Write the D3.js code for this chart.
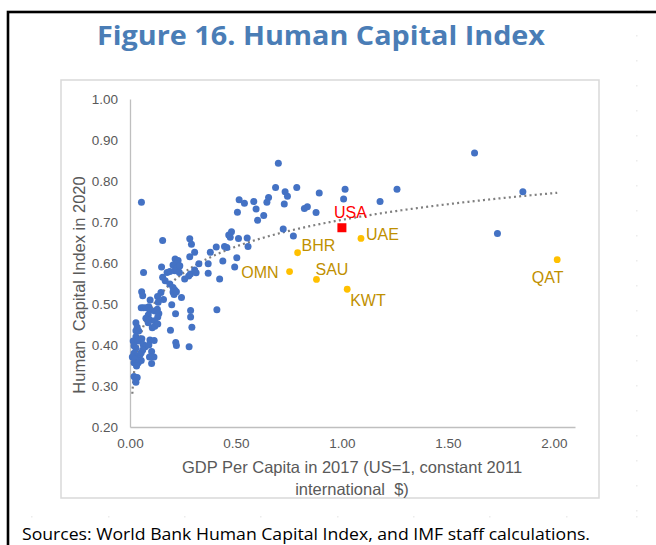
<!DOCTYPE html>
<html><head><meta charset="utf-8">
<script src="https://cdn.jsdelivr.net/npm/d3@7"></script>
<style>html,body{margin:0;padding:0;background:#fff;}svg{display:block;}</style>
</head><body>
<svg id="c" width="656" height="545"></svg>
<script>
// ---- data ----
const title = "Figure 16. Human Capital Index";
const sourceNote = "Sources: World Bank Human Capital Index, and IMF staff calculations.";
const xTitleLines = ["GDP Per Capita in 2017 (US=1, constant 2011", "international  $)"];
const yTitle = "Human  Capital Index in 2020";
const xTicks = [0, 0.5, 1.0, 1.5, 2.0];
const yTicks = [0.2, 0.3, 0.4, 0.5, 0.6, 0.7, 0.8, 0.9, 1.0];

// other countries: GDP per capita (US=1), HCI
const otherGdp = [0.700,0.687,0.787,0.732,0.743,0.893,1.015,1.008,1.260,1.180,0.515,0.540,0.584,0.654,0.646,0.728,0.507,0.595,0.631,0.602,0.823,0.837,0.878,0.723,0.771,0.466,0.479,0.473,0.512,0.553,0.557,0.407,0.446,0.457,0.379,0.504,0.438,0.369,0.494,0.369,0.423,0.410,1.626,1.854,1.734,0.054,0.154,0.282,0.290,0.282,0.305,0.213,0.227,0.222,0.231,0.203,0.221,0.211,0.235,0.149,0.175,0.188,0.233,0.258,0.277,0.285,0.305,0.312,0.325,0.064,0.154,0.166,0.188,0.203,0.211,0.203,0.208,0.219,0.243,0.055,0.060,0.095,0.146,0.130,0.158,0.133,0.197,0.215,0.286,0.286,0.292,0.053,0.064,0.077,0.089,0.094,0.117,0.129,0.136,0.131,0.086,0.075,0.094,0.086,0.117,0.105,0.117,0.131,0.028,0.034,0.028,0.041,0.191,0.028,0.015,0.038,0.019,0.056,0.062,0.072,0.060,0.053,0.094,0.114,0.089,0.102,0.113,0.047,0.034,0.042,0.053,0.028,0.019,0.011,0.023,0.019,0.092,0.102,0.216,0.219,0.279,0.039,0.031,0.019,0.027,0.034,0.028];
const otherHci = [0.843,0.784,0.784,0.774,0.763,0.771,0.780,0.756,0.780,0.750,0.754,0.746,0.750,0.760,0.748,0.744,0.724,0.732,0.716,0.704,0.733,0.737,0.723,0.683,0.666,0.668,0.676,0.663,0.660,0.661,0.640,0.639,0.640,0.638,0.626,0.613,0.605,0.598,0.590,0.575,0.561,0.486,0.868,0.774,0.672,0.748,0.655,0.659,0.646,0.615,0.626,0.610,0.606,0.599,0.591,0.595,0.587,0.581,0.593,0.590,0.577,0.579,0.577,0.561,0.568,0.573,0.583,0.576,0.598,0.577,0.565,0.557,0.549,0.540,0.534,0.529,0.523,0.530,0.516,0.530,0.520,0.510,0.528,0.518,0.511,0.504,0.498,0.476,0.484,0.468,0.443,0.491,0.491,0.491,0.493,0.484,0.483,0.487,0.477,0.468,0.473,0.465,0.461,0.454,0.459,0.442,0.446,0.451,0.454,0.443,0.435,0.434,0.436,0.420,0.410,0.410,0.398,0.415,0.401,0.396,0.388,0.381,0.412,0.411,0.400,0.384,0.371,0.376,0.370,0.365,0.362,0.392,0.380,0.371,0.366,0.357,0.371,0.355,0.406,0.399,0.396,0.357,0.349,0.323,0.316,0.321,0.309];

// GCC countries
const gccNames = ["UAE","BHR","OMN","SAU","KWT","QAT"];
const gccGdp = [1.090, 0.791, 0.753, 0.880, 1.025, 2.016];
const gccHci = [0.660, 0.625, 0.579, 0.560, 0.536, 0.608];

// United States
const usaName = "USA";
const usaGdp = 1.000;
const usaHci = 0.686;

// ---- layout / style ----
const svg = d3.select("#c");
const x = d3.scaleLinear().domain([0, 2.1]).range([130, 575]);
const y = d3.scaleLinear().domain([0.2, 1.0]).range([427, 99]);
const blue = "#4472c4", gold = "#ffc000", goldText = "#bf9000", grey = "#595959";

// faint page guides
const g0 = svg.append("g");
[31,108,184,260,337,413,489,566,636].forEach(v => g0.append("rect").attr("x", v).attr("y", 516).attr("width", 1.5).attr("height", 1.5).attr("fill", "#ececec"));
[10,35,60,85,110,135,160,185,210,235,260,285,310,335,360,385,410,435,460,485,510].forEach(v => g0.append("rect").attr("x", 636).attr("y", v).attr("width", 1.5).attr("height", 1.5).attr("fill", "#ececec"));

// outer black frame
svg.append("rect").attr("x", 8).attr("y", 12).attr("width", 800).attr("height", 700)
  .attr("fill", "none").attr("stroke", "#000").attr("stroke-width", 2.6);

// inner chart frame
svg.append("rect").attr("x", 61).attr("y", 80).attr("width", 538).attr("height", 418)
  .attr("fill", "#fff").attr("stroke", "#d9d9d9").attr("stroke-width", 1.5);

// title
svg.append("text").attr("x", 321).attr("y", 45).attr("text-anchor", "middle")
  .attr("font-family", "'Open Sans', sans-serif").attr("font-weight", 700).attr("font-size", 27)
  .attr("fill", "#4a7db6").attr("textLength", 448).attr("lengthAdjust", "spacingAndGlyphs")
  .text(title);

// source
svg.append("text").attr("x", 22).attr("y", 540)
  .attr("font-family", "'Open Sans', sans-serif").attr("font-size", 16).attr("fill", "#000")
  .attr("textLength", 568).attr("lengthAdjust", "spacingAndGlyphs")
  .text(sourceNote);

// axes
const font = "'Liberation Sans', Arial, sans-serif";
const xAxis = svg.append("g").attr("transform", "translate(0,427)")
  .call(d3.axisBottom(x).tickValues(xTicks).tickSize(0).tickPadding(11).tickFormat(d3.format(".2f")));
const yAxis = svg.append("g").attr("transform", "translate(130,0)")
  .call(d3.axisLeft(y).tickValues(yTicks).tickSize(0).tickPadding(12).tickFormat(d3.format(".2f")));
[xAxis, yAxis].forEach(a => {
  a.select(".domain").attr("stroke", "#bfbfbf").attr("stroke-width", 1.3);
  a.selectAll("text").attr("font-family", font).attr("font-size", 13.5).attr("fill", grey);
});

// axis titles
svg.append("text").attr("transform", "translate(85,285) rotate(-90)").attr("text-anchor", "middle")
  .attr("font-family", font).attr("font-size", 16.5).attr("fill", grey)
  .style("white-space", "pre").text(yTitle);
xTitleLines.forEach((t, i) => {
  svg.append("text").attr("x", 352).attr("y", 473 + i * 22).attr("text-anchor", "middle")
    .attr("font-family", font).attr("font-size", 16.5).attr("fill", grey)
    .style("white-space", "pre").text(t);
});

// logarithmic trend line (least squares on all countries, as Excel does)
const allX = otherGdp.concat(gccGdp, [usaGdp]);
const allY = otherHci.concat(gccHci, [usaHci]);
const lx = allX.map(Math.log);
const mx = d3.mean(lx), my = d3.mean(allY);
const b = d3.sum(lx.map((v, i) => (v - mx) * (allY[i] - my))) / d3.sum(lx.map(v => (v - mx) ** 2));
const a = my - b * mx;
const xmin = d3.min(allX), xmax = d3.max(allX);
const trendLow = d3.range(0, 101).map(i => {
  const xv = Math.exp(Math.log(xmin) + (Math.log(0.05) - Math.log(xmin)) * i / 100);
  return [xv, a + b * Math.log(xv)];
});
const trendHigh = d3.range(1, 301).map(i => {
  const xv = 0.05 + (xmax - 0.05) * i / 300;
  return [xv, a + b * Math.log(xv)];
});
svg.append("path").datum(trendLow.concat(trendHigh))
  .attr("d", d3.line().x(d => x(d[0])).y(d => y(d[1])))
  .attr("fill", "none").attr("stroke", "#7f7f7f").attr("stroke-width", 2.2)
  .attr("stroke-dasharray", "2,3.2");

// other countries
svg.append("g").selectAll("circle").data(otherGdp).join("circle")
  .attr("cx", d => x(d)).attr("cy", (d, i) => y(otherHci[i])).attr("r", 3.5).attr("fill", blue);

// GCC
svg.append("g").selectAll("circle").data(gccGdp).join("circle")
  .attr("cx", d => x(d)).attr("cy", (d, i) => y(gccHci[i])).attr("r", 3.4).attr("fill", gold);

// USA
svg.append("rect").attr("x", x(usaGdp) - 4.5).attr("y", y(usaHci) - 4.5).attr("width", 9).attr("height", 9).attr("fill", "#ff0000");

// labels
const labelPos = {
  UAE: {dx: 5, dy: -4.5, anchor: "start"},
  BHR: {dx: 4, dy: -7.5, anchor: "start"},
  OMN: {dx: -11, dy: 0.5, anchor: "end"},
  SAU: {dx: -1, dy: -10, anchor: "start"},
  KWT: {dx: 3, dy: 10.5, anchor: "start"},
  QAT: {dx: -9.5, dy: 17.5, anchor: "middle"},
  USA: {dx: 8.5, dy: -15.5, anchor: "middle"}
};
const labels = gccNames.map((nm, i) => ({nm, xv: gccGdp[i], yv: gccHci[i], c: goldText}))
  .concat([{nm: usaName, xv: usaGdp, yv: usaHci, c: "#ff0000"}]);
svg.append("g").selectAll("text").data(labels).join("text")
  .attr("x", d => x(d.xv) + labelPos[d.nm].dx)
  .attr("y", d => y(d.yv) + labelPos[d.nm].dy)
  .attr("dy", "0.36em")
  .attr("text-anchor", d => labelPos[d.nm].anchor)
  .attr("font-family", font).attr("font-size", 16).attr("fill", d => d.c)
  .text(d => d.nm);
</script>
</body></html>
